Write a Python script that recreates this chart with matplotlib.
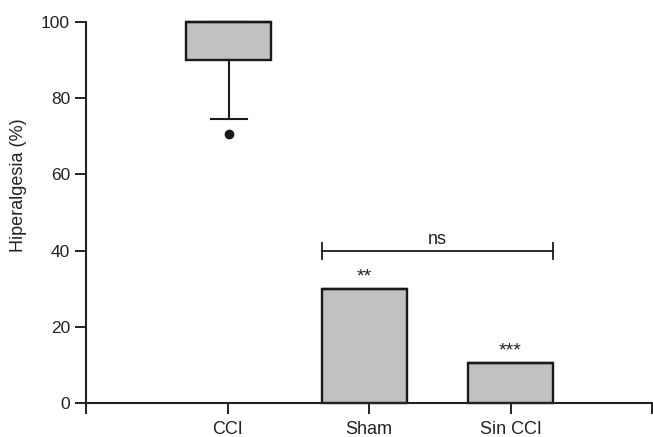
import matplotlib
matplotlib.use("Agg")
import matplotlib.pyplot as plt

# datos
grupos = ["CCI", "Sham", "Sin CCI"]
q1 = [90, 0, 0]
q3 = [100, 30, 10.5]
mediana = [100, 30, 10.5]
bigote_inf = [74.5, 0, 0]
bigote_sup = [100, 30, 10.5]
atipicos = [[70.5], [], []]
asteriscos = ["", "**", "***"]
y_ticks = [0, 20, 40, 60, 80, 100]
ns_altura = 40

plt.rcParams["font.family"] = ["Liberation Sans", "DejaVu Sans"]

fig = plt.figure(figsize=(6.53, 4.37), dpi=100)
ax = fig.add_axes([0.1317, 0.0778, 0.8668, 0.8719])

# las cajas no quedan justo centradas en las marcas en el original
posiciones = [1.01, 1.97, 3.0]
stats = []
for i, g in enumerate(grupos):
    stats.append({
        "label": g,
        "q1": q1[i], "q3": q3[i], "med": mediana[i],
        "whislo": bigote_inf[i], "whishi": bigote_sup[i],
        "fliers": atipicos[i],
    })

color_linea = "#1a1a1a"
bp = ax.bxp(stats, positions=posiciones, widths=0.6,
            capwidths=[0.26, 0, 0], patch_artist=True,
            boxprops=dict(facecolor="#c0c1c3", edgecolor=color_linea, linewidth=1.7),
            medianprops=dict(color=color_linea, linewidth=1.7),
            whiskerprops=dict(color=color_linea, linewidth=1.5),
            capprops=dict(color=color_linea, linewidth=1.5),
            flierprops=dict(marker="o", markerfacecolor=color_linea,
                            markeredgecolor=color_linea, markersize=6))
for artistas in bp.values():
    for a in artistas:
        a.set_clip_on(False)

# asteriscos
for i, s in enumerate(asteriscos):
    if s:
        ax.text(posiciones[i], q3[i] + 0.9, s, ha="center", va="bottom",
                fontsize=14, color="#222222")

# barra ns
x0, x1 = posiciones[1] - 0.3, posiciones[2] + 0.3
ax.plot([x0, x1], [ns_altura, ns_altura], color=color_linea, lw=1.3, clip_on=False)
for xb in (x0, x1):
    ax.plot([xb, xb], [ns_altura - 2.1, ns_altura + 2.1], color=color_linea, lw=1.3)
ax.text((x0 + x1) / 2, ns_altura + 0.8, "ns", ha="center", va="bottom",
        fontsize=13, color="#222222")

ax.set_xlim(0, 4)
ax.set_ylim(0, 100)
ax.set_xticks([0, 1, 2, 3, 4])
ax.set_xticklabels([""] + grupos + [""])
ax.set_yticks(y_ticks)
ax.tick_params(axis="both", direction="out", length=8, width=1.4,
               colors="#222222")
ax.tick_params(axis="y", labelsize=12.5)
ax.tick_params(axis="x", labelsize=13, pad=5)
ax.set_ylabel("Hiperalgesia (%)", fontsize=13, color="#222222")
ax.yaxis.set_label_coords(-0.105, 0.571)

for lado in ("top", "right"):
    ax.spines[lado].set_visible(False)
for lado in ("left", "bottom"):
    ax.spines[lado].set_linewidth(1.5)
    ax.spines[lado].set_color("#222222")

fig.savefig("out.png", dpi=100)
